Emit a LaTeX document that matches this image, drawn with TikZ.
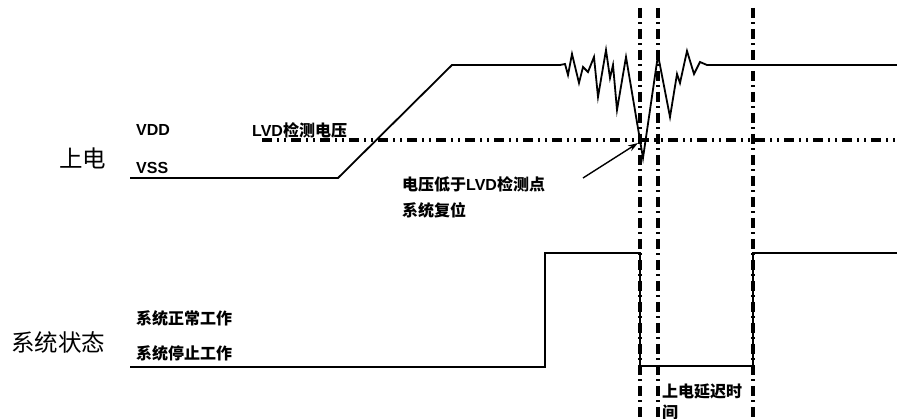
\documentclass[tikz,border=0pt]{standalone}
\usepackage{fontspec}
\setmainfont{Noto Sans CJK SC}
\newfontfamily\lat{Liberation Sans}
\usetikzlibrary{arrows.meta}
\begin{document}
\begin{tikzpicture}[x=1pt,y=-1pt,
  lbl/.style={anchor=west,inner sep=0pt,font=\fontsize{16}{18}\selectfont\bfseries},
  big/.style={anchor=west,inner sep=0pt,font=\fontsize{23.5}{26}\selectfont},
  wave/.style={line width=1.8pt,black},
  vline/.style={line width=3.4pt,dash pattern=on 10pt off 4.5pt on 2pt off 4.5pt},
  hline/.style={line width=3.4pt,dash pattern=on 10pt off 5pt on 2pt off 5pt on 2pt off 5pt},
  arr/.style={line width=1.4pt,-{Stealth[length=10pt,width=6.5pt]}}]
\useasboundingbox (0,0) rectangle (897,419);
% labels
\node[lbl] (vdd) at (136,130) {\lat VDD};
\node[lbl] (lvd) at (252,130) {{\lat LVD}检测电压};
\node[lbl] (vss) at (136,168) {\lat VSS};
\node[big] (sd) at (59,158) {上电};
\node[lbl] (note1) at (402,184) {电压低于{\lat LVD}检测点};
\node[lbl] (note2) at (402,210) {系统复位};
\node[lbl] (run) at (136,318) {系统正常工作};
\node[lbl] (stop) at (136,353) {系统停止工作};
\node[big] (state) at (11,343) {系统状态};
\node[lbl] (dly1) at (662,391) {上电延迟时};
\node[lbl] (dly2) at (662,412) {间};
% LVD threshold line
\draw[hline] (262,140) -- (897,140);
% vertical markers
\draw[vline] (640,8) -- (640,419);
\draw[vline] (658,8) -- (658,419);
\draw[vline] (753,8) -- (753,419);
% power waveform
\draw[wave,line join=miter] (130,178) -- (338,178) -- (452,65) -- (560,65)
  -- (565,64) -- (568,75) -- (572,54) -- (579,83) -- (583,67) -- (588,72)
  -- (594,57) -- (598,97) -- (606,50) -- (610,78) -- (613,65) -- (617,110)
  -- (626,57) -- (643,158) -- (658,55) -- (670,117) -- (677,74) -- (680,83)
  -- (687,51) -- (694,74) -- (700,62) -- (707,65) -- (897,65);
% system state waveform
\draw[wave] (130,367) -- (545,367) -- (545,253) -- (640,253) -- (640,366)
  -- (753,366) -- (753,253) -- (897,253);
% arrow
\coordinate (as) at (583,178);
\coordinate (ae) at (638,143);
\draw[arr] (as) -- (ae);
\end{tikzpicture}
\end{document}
